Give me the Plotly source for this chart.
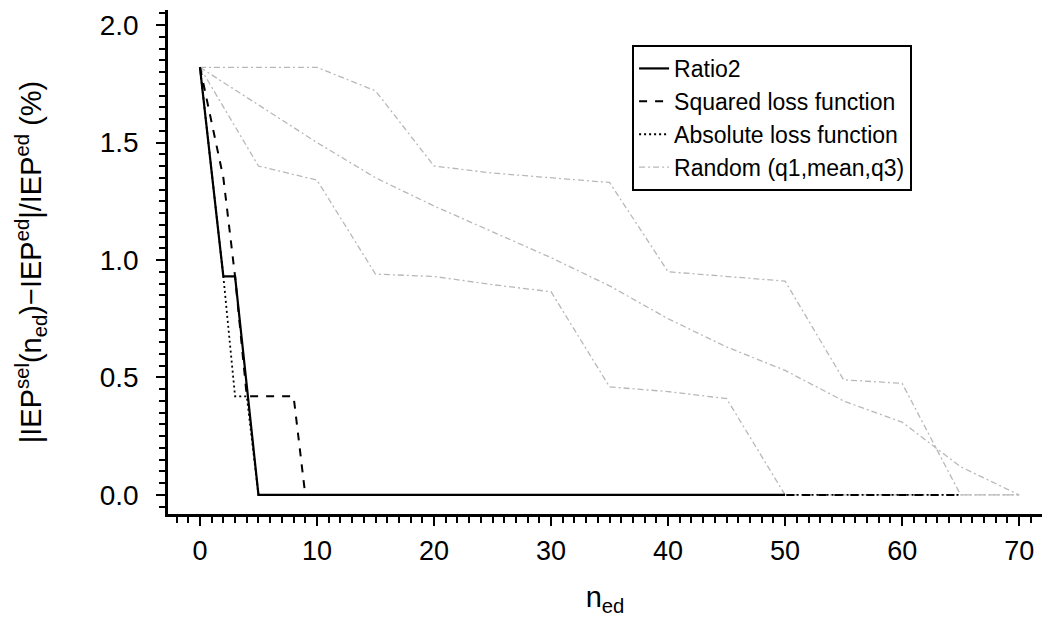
import plotly.graph_objects as go

# ---- data ----
ratio2_x = [0, 2, 3, 5, 50]
ratio2_y = [1.82, 0.93, 0.93, 0.0, 0.0]

squared_x = [0, 2, 3, 4, 8, 9, 65]
squared_y = [1.82, 1.35, 0.93, 0.42, 0.42, 0.0, 0.0]

absolute_x = [0, 2, 3, 4, 5, 65]
absolute_y = [1.82, 0.93, 0.42, 0.42, 0.0, 0.0]

random_x = [0, 5, 10, 15, 20, 25, 30, 35, 40, 45, 50, 55, 60, 65, 70]
random_q1 = [1.82, 1.40, 1.34, 0.94, 0.93, 0.895, 0.865, 0.46, 0.44, 0.41, 0.0, 0.0, 0.0, 0.0, 0.0]
random_mean = [1.82, 1.66, 1.50, 1.35, 1.23, 1.12, 1.01, 0.89, 0.75, 0.63, 0.53, 0.40, 0.31, 0.12, 0.0]
random_q3 = [1.82, 1.82, 1.82, 1.72, 1.40, 1.37, 1.35, 1.33, 0.95, 0.93, 0.91, 0.49, 0.475, 0.0, 0.0]

x_tick_step = 10
y_tick_step = 0.5
y_minor_step = 0.05

X_RANGE = [-2.73, 71.95]
Y_RANGE = [-0.081, 2.064]

FONT = "Liberation Sans, Arial, Helvetica, sans-serif"
GREY = "#b8b8b8"

fig = go.Figure()

# random lines (drawn first, underneath)
for i, (name, ys) in enumerate([("q1", random_q1), ("mean", random_mean), ("q3", random_q3)]):
    fig.add_trace(go.Scatter(
        x=random_x, y=ys, mode="lines",
        name="Random (q1,mean,q3)", legendgroup="random",
        showlegend=(i == 0), legendrank=4,
        line=dict(color=GREY, width=1.3, dash="6px,3px,2px,3px"),
    ))

fig.add_trace(go.Scatter(
    x=absolute_x, y=absolute_y, mode="lines", name="Absolute loss function", legendrank=3,
    line=dict(color="black", width=1.8, dash="2px,3px"),
))
fig.add_trace(go.Scatter(
    x=squared_x, y=squared_y, mode="lines", name="Squared loss function", legendrank=2,
    line=dict(color="black", width=2, dash="8px,8px"),
))
fig.add_trace(go.Scatter(
    x=ratio2_x, y=ratio2_y, mode="lines", name="Ratio2", legendrank=1,
    line=dict(color="black", width=2.2),
))

fig.update_layout(
    width=1045, height=626,
    margin=dict(l=168, r=3, t=10, b=112),
    paper_bgcolor="white", plot_bgcolor="white",
    font=dict(family=FONT, color="black", size=24),
    legend=dict(
        x=0.531, y=0.9306, xanchor="left", yanchor="top",
        bordercolor="black", borderwidth=2, bgcolor="white",
        font=dict(size=23, family=FONT), traceorder="normal",
    ),
    xaxis=dict(
        range=X_RANGE,
        tickmode="linear", tick0=0, dtick=x_tick_step,
        ticks="outside", ticklen=9, tickwidth=2, tickcolor="black",
        showline=True, linecolor="black", linewidth=2.5,
        showgrid=False, zeroline=False,
        tickfont=dict(size=27),
        ticklabelstandoff=2,
        minor=dict(dtick=1, tick0=0, ticks="outside", ticklen=6, tickwidth=1.5,
                   tickcolor="black", showgrid=False),
        title=dict(text="n<sub>ed</sub>", font=dict(size=29), standoff=22),
    ),
    yaxis=dict(
        range=Y_RANGE,
        tickmode="linear", tick0=0, dtick=y_tick_step, tickformat=".1f",
        ticks="outside", ticklen=9, tickwidth=2, tickcolor="black",
        showline=True, linecolor="black", linewidth=2.5,
        showgrid=False, zeroline=False,
        tickfont=dict(size=28),
        ticklabelstandoff=12,
        minor=dict(dtick=y_minor_step, tick0=0, ticks="outside", ticklen=6, tickwidth=1.5,
                   tickcolor="black", showgrid=False),
        title=dict(text="|IEP<sup>sel</sup>(n<sub>ed</sub>)\u2212IEP<sup>ed</sup>|/IEP<sup>ed</sup> (%)",
                   font=dict(size=29), standoff=50),
    ),
)

fig.write_html("out.html")
